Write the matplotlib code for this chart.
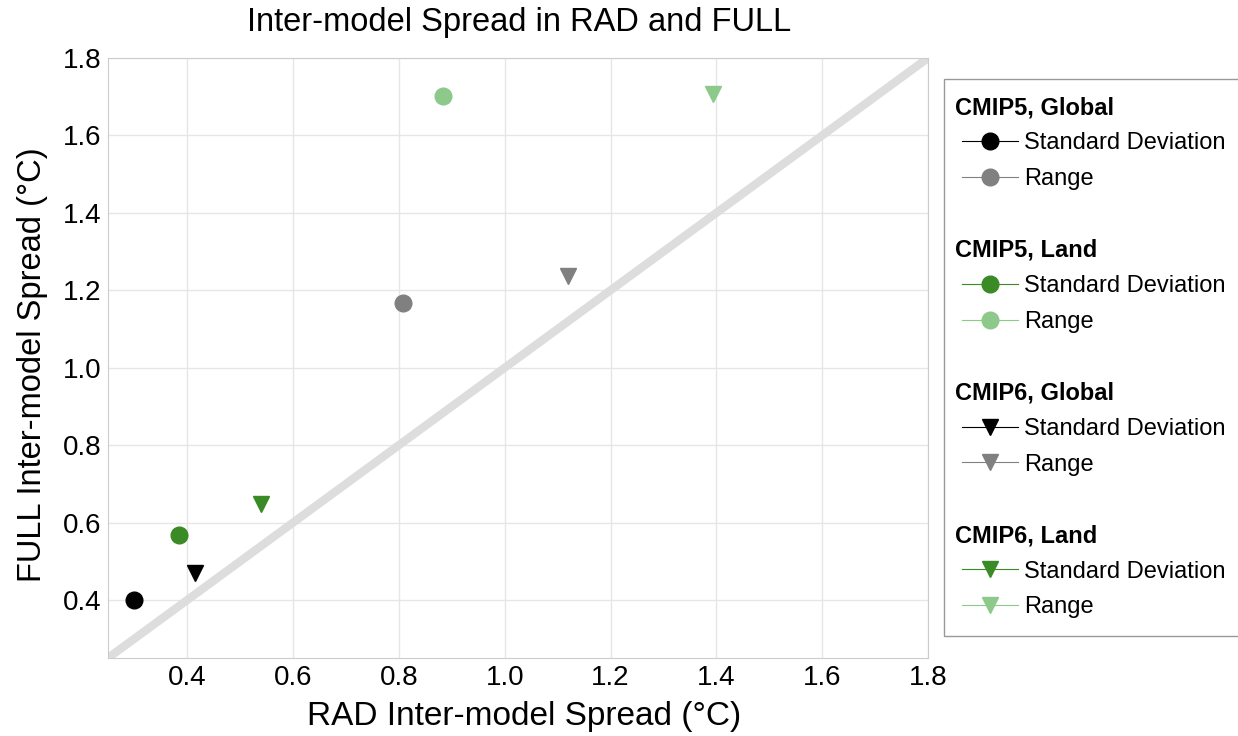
import matplotlib
matplotlib.use('Agg')
from matplotlib import pyplot as plt
from matplotlib.lines import Line2D

plt.rcParams['font.family'] = ['Liberation Sans', 'DejaVu Sans']

# datos (RAD, FULL)
groups = ['CMIP5, Global', 'CMIP5, Land', 'CMIP6, Global', 'CMIP6, Land']
std_rad = [0.30, 0.385, 0.415, 0.54]
std_full = [0.40, 0.568, 0.47, 0.648]
rng_rad = [0.808, 0.884, 1.12, 1.394]
rng_full = [1.168, 1.702, 1.237, 1.708]
markers = ['o', 'o', 'v', 'v']
std_colors = ['black', '#3a8a26', 'black', '#3a8a26']
rng_colors = ['#808080', '#8cc98a', '#808080', '#8cc98a']

W, H = 1238, 736
fig = plt.figure(figsize=(W / 100, H / 100), dpi=100)
ax = fig.add_axes([108/W, 78/H, 820/W, 600/H])

ax.plot([0.25, 1.8], [0.25, 1.8], color='#dddddd', lw=6, zorder=1)

for i in range(len(groups)):
    ax.plot(std_rad[i], std_full[i], marker=markers[i], color=std_colors[i],
            ms=12, ls='none', zorder=3)
    ax.plot(rng_rad[i], rng_full[i], marker=markers[i], color=rng_colors[i],
            ms=12, ls='none', zorder=3)

ax.set_xlim(0.25, 1.8)
ax.set_ylim(0.25, 1.8)
ticks = [0.4, 0.6, 0.8, 1.0, 1.2, 1.4, 1.6, 1.8]
ax.set_xticks(ticks)
ax.set_yticks(ticks)
ax.set_xticklabels(['%.1f' % t for t in ticks])
ax.set_yticklabels(['%.1f' % t for t in ticks])
ax.grid(True, color='#e6e6e6', lw=1)
ax.set_axisbelow(True)
for s in ax.spines.values():
    s.set_color('#cccccc')
ax.tick_params(length=0, labelsize=20, pad=5)

fig.text(524/W, 1 - 716/H, 'RAD Inter-model Spread (°C)', fontsize=24,
         ha='center', va='center')
fig.text(33/W, 1 - 365/H, 'FULL Inter-model Spread (°C)', fontsize=23.5,
         ha='center', va='center', rotation=90)
fig.text(519/W, 1 - 22/H, 'Inter-model Spread in RAD and FULL', fontsize=23.5,
         ha='center', va='center')

# leyenda con encabezados por grupo
handles = []
labels = []
for i, g in enumerate(groups):
    if i > 0:
        handles.append(Line2D([], [], ls='none'))
        labels.append(' ')
    handles.append(Line2D([], [], ls='none'))
    labels.append(g)
    handles.append(Line2D([], [], marker=markers[i], color=std_colors[i],
                          ms=12, lw=0.8))
    labels.append('Standard Deviation')
    handles.append(Line2D([], [], marker=markers[i], color=rng_colors[i],
                          ms=12, lw=0.8))
    labels.append('Range')

# el marco de la leyenda llega hasta el borde derecho
leg = fig.legend(handles, labels, loc='upper left', mode='expand',
                 bbox_to_anchor=(944/W, 1 - 79/H, 310/W, 0), fontsize=17,
                 frameon=True, fancybox=False, edgecolor='#999999',
                 handlelength=2.4, handletextpad=0.25, labelspacing=0.58,
                 borderpad=0.75, borderaxespad=0, framealpha=1)
leg.get_frame().set_linewidth(1)

# encabezados en negrita, alineados a la izquierda
fig.canvas.draw()
r = fig.canvas.get_renderer()
box = leg.get_window_extent(r)
for t in leg.get_texts():
    if t.get_text() in groups:
        bb = t.get_window_extent(r)
        fig.text((box.x0 + 11) / W, (bb.y0 + bb.y1) / 2 / H, t.get_text(),
                 fontsize=17, fontweight='bold', va='center', ha='left',
                 zorder=10)
        t.set_visible(False)

fig.savefig('out.png', dpi=100)
